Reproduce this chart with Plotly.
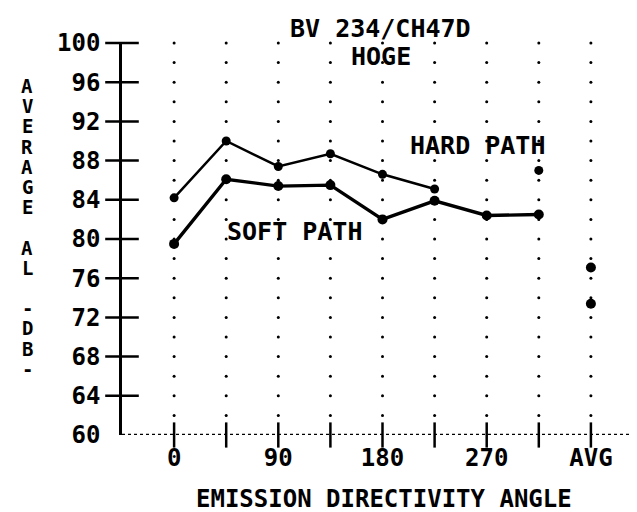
import numpy as np
import plotly.graph_objects as go

# ---- data ----
angles = [0, 45, 90, 135, 180, 225, 270, 315]
hard_path = [84.2, 90.0, 87.4, 88.7, 86.6, 85.1, None, 87.0]
soft_path = [79.5, 86.1, 85.4, 85.5, 82.0, 83.9, 82.4, 82.5]
avg_x = [360, 360]
avg_vals = [77.1, 73.4]

x_tick_vals = [0, 90, 180, 270, 360]
x_tick_text = ["0", "90", "180", "270", "AVG"]
x_minor = [0, 45, 90, 135, 180, 225, 270, 315, 360, 405]
y_tick_vals = [60, 64, 68, 72, 76, 80, 84, 88, 92, 96, 100]
y_grid = list(range(62, 101, 2))

FONT = "DejaVu Sans Mono"
W, H = 637, 512
ML, MR, MT, MB = 114, 2, 35, 85
XR = [-45, 405]
YR = [60, 100]

fig = go.Figure()

# dotted grid (dots at each minor x, every 2 dB)
gx, gy = np.meshgrid(x_minor, y_grid)
fig.add_trace(go.Scatter(x=gx.ravel(), y=gy.ravel(), mode="markers",
                         marker=dict(size=3, color="black"), hoverinfo="skip",
                         showlegend=False, cliponaxis=False))

# axis cross ticks
fig.add_trace(go.Scatter(x=[XR[0]] * (len(y_tick_vals) - 1), y=y_tick_vals[1:], mode="markers",
                         marker=dict(symbol="line-ew", size=24, line=dict(width=2.5, color="black")),
                         hoverinfo="skip", showlegend=False, cliponaxis=False))
fig.add_trace(go.Scatter(x=x_minor, y=[YR[0]] * len(x_minor), mode="markers",
                         marker=dict(symbol="line-ns", size=18, line=dict(width=2.5, color="black")),
                         hoverinfo="skip", showlegend=False, cliponaxis=False))

# series
fig.add_trace(go.Scatter(x=angles, y=hard_path, mode="lines+markers", connectgaps=False,
                         line=dict(color="black", width=2.5),
                         marker=dict(size=9, color="black"), showlegend=False, cliponaxis=False))
fig.add_trace(go.Scatter(x=angles, y=soft_path, mode="lines+markers",
                         line=dict(color="black", width=3.4),
                         marker=dict(size=10, color="black"), showlegend=False, cliponaxis=False))
fig.add_trace(go.Scatter(x=avg_x, y=avg_vals, mode="markers",
                         marker=dict(size=10, color="black"), showlegend=False, cliponaxis=False))

# dotted x baseline
fig.add_shape(type="line", x0=XR[0], x1=XR[1], y0=YR[0], y1=YR[0], xref="x", yref="y",
              line=dict(color="black", width=2.5, dash="dot"))

ph = H - MT - MB


def py(px):
    return (H - MB - px) / ph


def pxx(px):
    return (px - ML) / (W - ML - MR)


def note(text, x, y, size=25):
    fig.add_annotation(text="<b>%s</b>" % text, x=pxx(x), y=py(y), xref="paper", yref="paper",
                       xanchor="center", yanchor="middle", showarrow=False,
                       font=dict(family=FONT, size=size, color="black"))


note("BV 234/CH47D", 372, 21)
note("HOGE", 373, 49)
note("HARD PATH", 469, 137)
note("SOFT PATH", 286, 223)
note("EMISSION DIRECTIVITY ANGLE", 376, 491, size=24)

ylabel = list("AVERAGE AL -DB-")
for i, ch in enumerate(ylabel):
    if ch == " ":
        continue
    note(ch, 19, 78 + i * 20.2, size=19)

fig.update_layout(
    width=W, height=H, margin=dict(l=ML, r=MR, t=MT, b=MB),
    plot_bgcolor="white", paper_bgcolor="white", showlegend=False,
    font=dict(family=FONT, size=24, color="black"),
)
fig.update_xaxes(range=XR, tickvals=x_tick_vals, ticktext=["<b>%s</b>" % t for t in x_tick_text],
                 showgrid=False, zeroline=False, showline=False, ticks="",
                 ticklabelstandoff=6, tickfont=dict(family=FONT, size=24))
fig.update_yaxes(range=YR, tickvals=y_tick_vals, ticktext=["<b>%d</b>" % v for v in y_tick_vals],
                 showgrid=False, zeroline=False, showline=True, linecolor="black", linewidth=2.5,
                 ticks="", ticklabelstandoff=14, tickfont=dict(family=FONT, size=24))

fig.write_html("out.html")
